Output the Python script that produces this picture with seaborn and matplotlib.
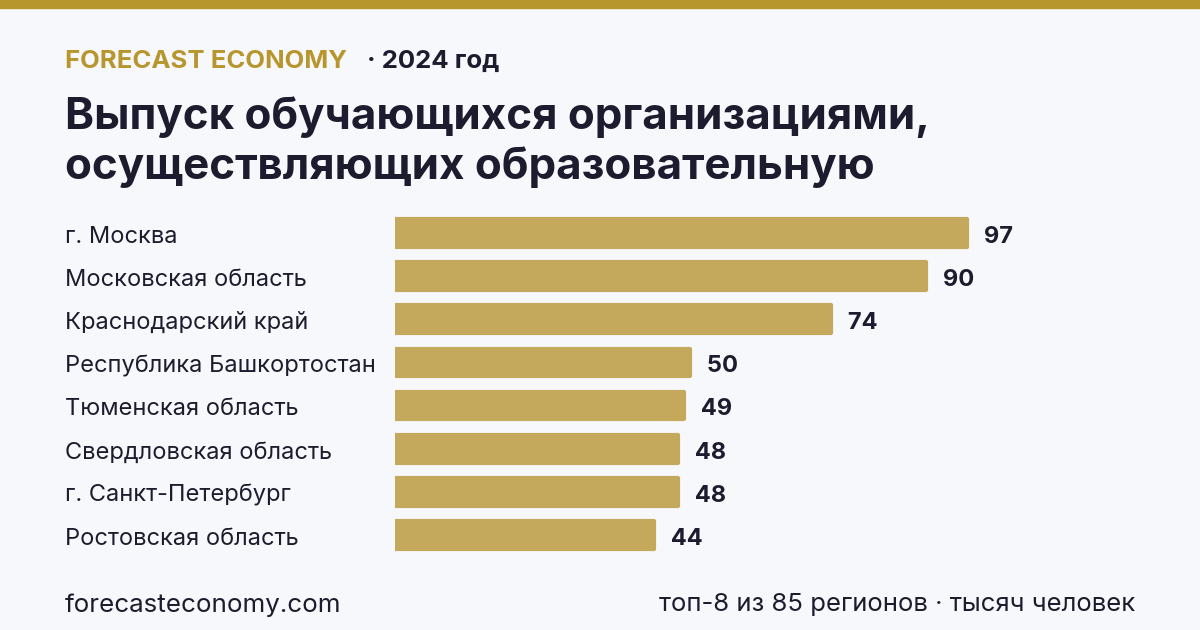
import numpy as np
import pandas as pd
import matplotlib
matplotlib.use("Agg")
import matplotlib.pyplot as plt
import seaborn as sns

# --- data ---
regions = ["г. Москва", "Московская область", "Краснодарский край",
           "Республика Башкортостан", "Тюменская область",
           "Свердловская область", "г. Санкт-Петербург", "Ростовская область"]
values = [97, 90, 74, 50, 49, 48, 48, 44]

df = pd.DataFrame({"region": regions, "value": values})

BG = "#F7F8FC"
GOLD = "#B8962E"
BAR = "#C4A85C"
DARK = "#1C1C2E"

sns.set_theme(style="white")
plt.rcParams["font.family"] = ["Inter", "DejaVu Sans"]

fig = plt.figure(figsize=(12, 6.3), dpi=100, facecolor=BG)

# top stripe
fig.patches.append(plt.Rectangle((0, 1 - 8 / 630), 1, 8 / 630, transform=fig.transFigure,
                                 color=GOLD, zorder=0))

ax = fig.add_axes([395 / 1200, 1 - 556.6 / 630, 648.7 / 1200, 345.2 / 630])
ax.set_facecolor(BG)
sns.barplot(data=df, x="value", y="region", color=BAR, width=0.64, saturation=1, ax=ax)

# slightly rounded ends
for p in ax.patches:
    p.set_edgecolor(BAR)
    p.set_linewidth(3)
    p.set_joinstyle("round")

ax.set_xlim(0, 110)
ax.set_ylim(7.5, -0.5)
ax.set_xlabel("")
ax.set_ylabel("")
ax.set_xticks([])
ax.set_yticks([])
sns.despine(ax=ax, left=True, bottom=True)

# text sits slightly below bar centre in the reference
dy = 0.09
for i, (r, v) in enumerate(zip(regions, values)):
    ax.text(v, i + dy, f"   {v}", ha="left", va="center", fontsize=17,
            fontweight="bold", color=DARK)
    ax.annotate(r, xy=(65 / 1200, i + dy), xycoords=("figure fraction", "data"),
                ha="left", va="center", fontsize=17, color=DARK)

# header
fig.text(65 / 1200, 1 - 61 / 630, "FORECAST ECONOMY", ha="left", va="center",
         fontsize=18.5, fontweight="bold", color=GOLD)
fig.text(367 / 1200, 1 - 61 / 630, "· 2024 год", ha="left", va="center",
         fontsize=18.5, fontweight="bold", color=DARK)
fig.text(65 / 1200, 1 - 117 / 630, "Выпуск обучающихся организациями,", ha="left",
         va="center", fontsize=31.6, fontweight="bold", color=DARK)
fig.text(65 / 1200, 1 - 167 / 630, "осуществляющих образовательную", ha="left",
         va="center", fontsize=31.6, fontweight="bold", color=DARK)

# footer
fig.text(65 / 1200, 1 - 605 / 630, "forecasteconomy.com", ha="left", va="center",
         fontsize=18.7, color=DARK)
fig.text(1135 / 1200, 1 - 605 / 630, "топ-8 из 85 регионов · тысяч человек", ha="right",
         va="center", fontsize=18.5, color=DARK)

fig.savefig("out.png", dpi=100, facecolor=BG)
